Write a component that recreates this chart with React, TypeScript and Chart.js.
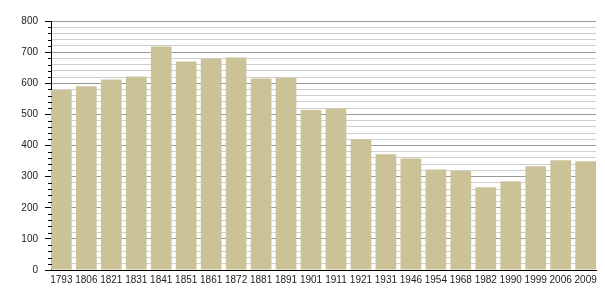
import React, { useEffect, useRef } from "react";
import { Chart, registerables } from "chart.js";

Chart.register(...registerables);

const years = ["1793", "1806", "1821", "1831", "1841", "1851", "1861", "1872", "1881", "1891", "1901", "1911", "1921", "1931", "1946", "1954", "1968", "1982", "1990", "1999", "2006", "2009"];
const population = [578, 590, 612, 622, 718, 670, 679, 683, 615, 618, 514, 519, 419, 372, 358, 323, 318, 266, 285, 333, 353, 349];
const yMax = 800;
const yMinorStep = 20;
const yMajorStep = 100;

const BAR_PCT = 0.83;

const minorTicks = {
  id: "minorTicks",
  afterDatasetsDraw(chart: any) {
    const y = chart.scales.y;
    const ctx = chart.ctx;
    ctx.save();
    ctx.strokeStyle = "#000";
    ctx.lineWidth = 1;
    for (let v = 0; v <= yMax; v += yMinorStep) {
      if (v % yMajorStep === 0) continue;
      const py = Math.round(y.getPixelForValue(v)) + 0.5;
      ctx.beginPath();
      ctx.moveTo(y.right - 3, py);
      ctx.lineTo(y.right + 1, py);
      ctx.stroke();
    }
    ctx.restore();
  },
};

export default function App() {
  const ref = useRef<HTMLCanvasElement>(null);
  useEffect(() => {
    if (!ref.current) return;
    const chart = new Chart(ref.current, {
      type: "bar",
      data: {
        datasets: [
          {
            data: population.map((v, i) => ({ x: i, y: v })),
            backgroundColor: "rgb(204,194,152)",
            borderWidth: 0,
            barPercentage: BAR_PCT,
            categoryPercentage: 1,
          },
        ],
      },
      plugins: [minorTicks],
      options: {
        animation: false,
        responsive: true,
        maintainAspectRatio: false,
        layout: { padding: { top: 21, right: 9, left: 0, bottom: 0 } },
        plugins: { legend: { display: false }, tooltip: { enabled: false } },
        scales: {
          x: {
            type: "linear",
            offset: false,
            min: -BAR_PCT / 2,
            max: years.length - 1 + BAR_PCT / 2,
            afterBuildTicks: (axis: any) => {
              axis.ticks = years.map((_, i) => ({ value: i }));
            },
            afterFit: (scale: any) => {
              scale.height = 30;
            },
            grid: { display: false, drawTicks: false, offset: false },
            border: { display: true, color: "#000", width: 1 },
            ticks: {
              autoSkip: false,
              maxRotation: 0,
              padding: 4,
              color: "#222",
              font: { family: "Liberation Sans", size: 10 },
              callback: (value: any) => years[value as number] ?? "",
            },
          },
          y: {
            min: 0,
            max: yMax,
            afterFit: (scale: any) => {
              scale.width = 51;
            },
            grid: {
              color: (ctx: any) => (ctx.tick && ctx.tick.value % yMajorStep === 0 ? "#9a9a9a" : "#cfcfcf"),
              tickColor: (ctx: any) => (ctx.tick && ctx.tick.value % yMajorStep === 0 ? "#000" : "rgba(0,0,0,0)"),
              tickLength: 6,
            },
            border: { display: true, color: "#000", width: 1 },
            ticks: {
              stepSize: yMinorStep,
              autoSkip: false,
              padding: 7,
              color: "#222",
              font: { family: "Liberation Sans", size: 10 },
              callback: (value: any) => (Number(value) % yMajorStep === 0 ? String(value) : ""),
            },
          },
        },
      },
    });
    return () => chart.destroy();
  }, []);
  return (
    <div style={{ position: "fixed", left: 0, top: 0, width: 605, height: 300, background: "#fff" }}>
      <canvas ref={ref} />
    </div>
  );
}
